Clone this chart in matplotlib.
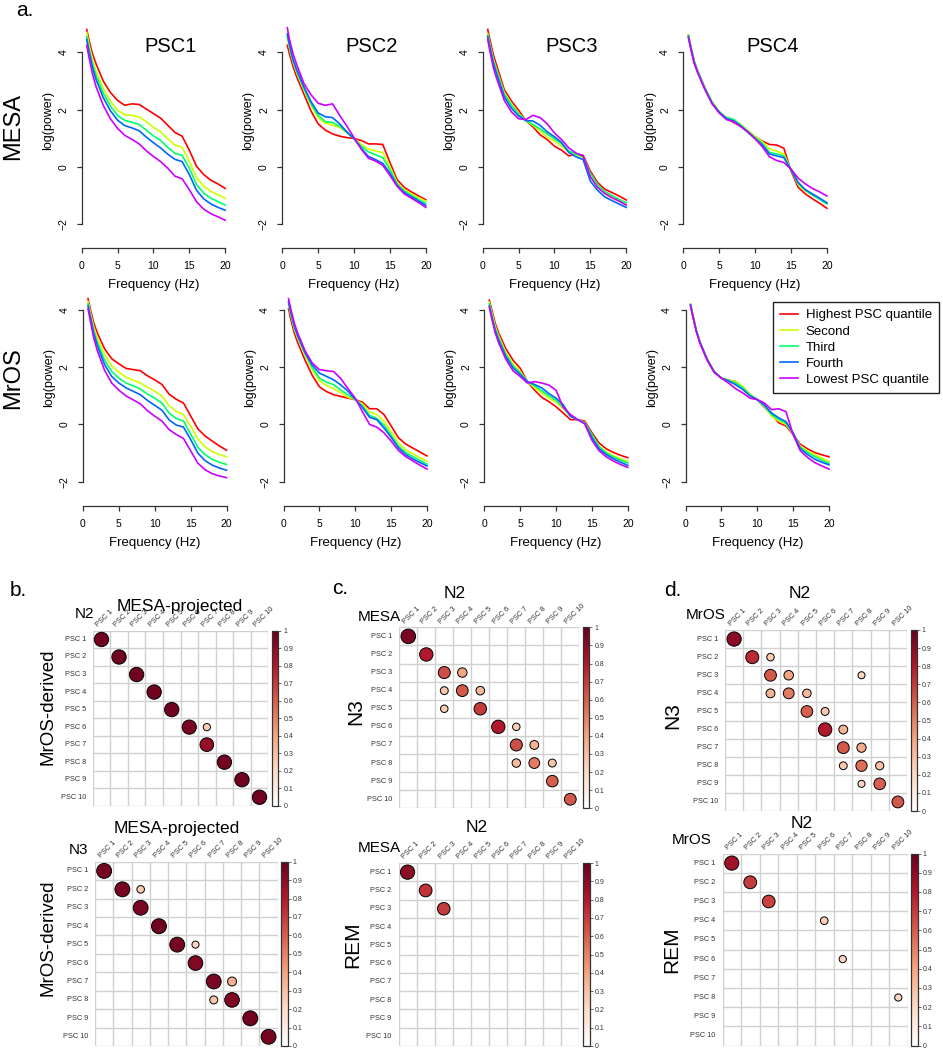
import numpy as np
import matplotlib
matplotlib.use("Agg")
import matplotlib.pyplot as plt
from matplotlib.colors import LinearSegmentedColormap, Normalize
from matplotlib import cm

plt.rcParams['font.family'] = ['Liberation Sans', 'DejaVu Sans']

# ---------------- data: power spectra by PSC quantile ----------------
freq = [0.7, 1, 1.5, 2, 3, 4, 5, 6, 7, 8, 9, 10, 11, 12, 13, 14, 15, 16, 17, 18, 19, 20]
quantiles = ["Highest PSC quantile", "Second", "Third", "Fourth", "Lowest PSC quantile"]
line_colors = ["#FF0000", "#CCFF00", "#00FF66", "#0066FF", "#CC00FF"]
psc_titles = ["PSC1", "PSC2", "PSC3", "PSC4"]
cohorts = ["MESA", "MrOS"]

mesa_psc1 = [
    [4.80, 4.45, 3.95, 3.60, 3.00, 2.60, 2.32, 2.15, 2.20, 2.18, 2.02, 1.86, 1.70, 1.45, 1.20, 1.07, 0.58, 0.02, -0.27, -0.47, -0.60, -0.76],
    [4.70, 4.30, 3.75, 3.35, 2.75, 2.30, 1.98, 1.82, 1.80, 1.74, 1.58, 1.38, 1.22, 0.98, 0.76, 0.68, 0.20, -0.38, -0.68, -0.86, -0.98, -1.10],
    [4.55, 4.15, 3.60, 3.20, 2.58, 2.12, 1.80, 1.62, 1.56, 1.48, 1.28, 1.08, 0.92, 0.68, 0.47, 0.40, -0.05, -0.62, -0.92, -1.10, -1.22, -1.34],
    [4.45, 4.05, 3.48, 3.05, 2.42, 1.96, 1.63, 1.44, 1.36, 1.26, 1.04, 0.84, 0.66, 0.44, 0.26, 0.18, -0.27, -0.82, -1.12, -1.30, -1.42, -1.52],
    [4.25, 3.85, 3.25, 2.80, 2.15, 1.68, 1.34, 1.10, 0.96, 0.80, 0.56, 0.36, 0.18, -0.05, -0.33, -0.42, -0.80, -1.22, -1.48, -1.64, -1.75, -1.87],
]
mesa_psc2 = [
    [4.25, 3.95, 3.50, 3.15, 2.55, 1.95, 1.50, 1.28, 1.15, 1.07, 1.02, 0.99, 0.92, 0.80, 0.80, 0.78, 0.15, -0.45, -0.72, -0.88, -1.02, -1.15],
    [4.50, 4.15, 3.65, 3.30, 2.70, 2.15, 1.72, 1.52, 1.46, 1.38, 1.18, 0.99, 0.78, 0.62, 0.55, 0.50, 0.00, -0.55, -0.80, -0.95, -1.08, -1.20],
    [4.58, 4.22, 3.70, 3.35, 2.75, 2.20, 1.80, 1.58, 1.55, 1.42, 1.20, 0.99, 0.72, 0.52, 0.42, 0.32, -0.10, -0.60, -0.85, -1.00, -1.15, -1.28],
    [4.65, 4.28, 3.75, 3.40, 2.80, 2.28, 1.88, 1.75, 1.72, 1.50, 1.22, 0.98, 0.65, 0.36, 0.25, 0.12, -0.22, -0.65, -0.90, -1.05, -1.20, -1.35],
    [4.86, 4.45, 3.95, 3.58, 2.92, 2.52, 2.22, 2.15, 2.20, 1.80, 1.42, 1.02, 0.62, 0.30, 0.20, 0.05, -0.30, -0.68, -0.95, -1.10, -1.25, -1.42],
]
mesa_psc3 = [
    [4.80, 4.45, 3.90, 3.50, 2.70, 2.30, 1.98, 1.62, 1.40, 1.12, 0.95, 0.72, 0.58, 0.38, 0.45, 0.40, -0.15, -0.55, -0.78, -0.90, -1.02, -1.16],
    [4.65, 4.30, 3.75, 3.35, 2.60, 2.20, 1.88, 1.62, 1.45, 1.25, 1.02, 0.90, 0.72, 0.52, 0.42, 0.30, -0.28, -0.68, -0.92, -1.05, -1.18, -1.30],
    [4.60, 4.25, 3.70, 3.30, 2.55, 2.15, 1.85, 1.62, 1.48, 1.32, 1.15, 0.98, 0.80, 0.55, 0.45, 0.35, -0.22, -0.62, -0.86, -1.00, -1.14, -1.26],
    [4.55, 4.18, 3.60, 3.20, 2.45, 2.05, 1.78, 1.62, 1.60, 1.45, 1.22, 1.05, 0.85, 0.50, 0.35, 0.25, -0.50, -0.82, -1.05, -1.18, -1.30, -1.42],
    [4.45, 4.05, 3.45, 3.05, 2.33, 1.92, 1.68, 1.65, 1.80, 1.72, 1.50, 1.18, 0.95, 0.66, 0.48, 0.38, -0.35, -0.72, -0.93, -1.08, -1.20, -1.34],
]
mesa_psc4 = [
    [4.60, 4.25, 3.70, 3.35, 2.75, 2.25, 1.92, 1.70, 1.55, 1.42, 1.25, 1.05, 0.90, 0.78, 0.76, 0.65, -0.15, -0.72, -0.95, -1.12, -1.28, -1.45],
    [4.60, 4.25, 3.70, 3.35, 2.78, 2.28, 1.93, 1.72, 1.62, 1.48, 1.27, 1.06, 0.88, 0.62, 0.55, 0.45, -0.10, -0.62, -0.85, -0.98, -1.12, -1.28],
    [4.58, 4.22, 3.68, 3.33, 2.75, 2.25, 1.92, 1.72, 1.66, 1.46, 1.24, 1.02, 0.82, 0.50, 0.45, 0.38, -0.10, -0.58, -0.82, -0.99, -1.14, -1.30],
    [4.55, 4.20, 3.65, 3.30, 2.72, 2.22, 1.90, 1.68, 1.60, 1.42, 1.20, 0.98, 0.76, 0.45, 0.38, 0.32, -0.10, -0.55, -0.80, -0.95, -1.10, -1.26],
    [4.50, 4.15, 3.62, 3.28, 2.70, 2.20, 1.88, 1.65, 1.58, 1.40, 1.22, 0.98, 0.70, 0.35, 0.22, 0.15, -0.08, -0.40, -0.60, -0.76, -0.88, -1.02],
]
mros_psc1 = [
    [4.40, 4.05, 3.55, 3.20, 2.65, 2.30, 2.12, 1.96, 1.92, 1.88, 1.70, 1.56, 1.40, 1.06, 0.88, 0.75, 0.30, -0.15, -0.40, -0.58, -0.75, -0.90],
    [4.30, 3.95, 3.40, 3.02, 2.45, 2.05, 1.83, 1.65, 1.55, 1.45, 1.30, 1.16, 1.00, 0.66, 0.46, 0.35, -0.05, -0.50, -0.78, -0.95, -1.05, -1.13],
    [4.22, 3.85, 3.28, 2.88, 2.25, 1.85, 1.62, 1.45, 1.35, 1.24, 1.06, 0.92, 0.75, 0.40, 0.21, 0.12, -0.33, -0.80, -1.05, -1.22, -1.32, -1.40],
    [4.15, 3.78, 3.18, 2.76, 2.10, 1.68, 1.45, 1.28, 1.16, 1.04, 0.84, 0.67, 0.50, 0.16, -0.02, -0.09, -0.52, -1.00, -1.26, -1.42, -1.52, -1.60],
    [4.05, 3.65, 3.02, 2.58, 1.90, 1.45, 1.20, 1.00, 0.86, 0.72, 0.48, 0.29, 0.12, -0.18, -0.35, -0.49, -0.92, -1.35, -1.58, -1.72, -1.80, -1.86],
]
mros_psc2 = [
    [4.05, 3.70, 3.20, 2.85, 2.25, 1.72, 1.32, 1.15, 1.04, 0.98, 0.92, 0.87, 0.78, 0.55, 0.55, 0.35, -0.05, -0.46, -0.68, -0.82, -0.96, -1.10],
    [4.20, 3.85, 3.35, 3.00, 2.42, 1.92, 1.52, 1.36, 1.25, 1.10, 0.95, 0.87, 0.72, 0.44, 0.35, 0.12, -0.25, -0.64, -0.88, -1.02, -1.16, -1.29],
    [4.25, 3.90, 3.40, 3.05, 2.48, 2.00, 1.62, 1.48, 1.39, 1.20, 1.04, 0.87, 0.65, 0.32, 0.21, -0.02, -0.38, -0.75, -0.98, -1.12, -1.26, -1.39],
    [4.30, 3.95, 3.45, 3.10, 2.52, 2.08, 1.80, 1.68, 1.56, 1.38, 1.16, 0.88, 0.60, 0.25, 0.17, -0.12, -0.45, -0.81, -1.05, -1.20, -1.33, -1.45],
    [4.40, 4.05, 3.55, 3.18, 2.58, 2.15, 1.92, 1.88, 1.85, 1.60, 1.25, 0.92, 0.45, 0.00, -0.09, -0.29, -0.58, -0.90, -1.12, -1.27, -1.42, -1.56],
]
mros_psc3 = [
    [4.35, 4.05, 3.55, 3.20, 2.65, 2.25, 1.97, 1.50, 1.20, 0.95, 0.80, 0.62, 0.40, 0.17, 0.17, 0.12, -0.29, -0.65, -0.85, -0.98, -1.08, -1.16],
    [4.28, 3.95, 3.45, 3.10, 2.52, 2.12, 1.85, 1.50, 1.28, 1.10, 0.92, 0.78, 0.55, 0.29, 0.17, 0.08, -0.38, -0.75, -0.96, -1.10, -1.20, -1.29],
    [4.22, 3.88, 3.38, 3.02, 2.45, 2.05, 1.80, 1.50, 1.35, 1.18, 1.00, 0.85, 0.60, 0.29, 0.17, 0.06, -0.35, -0.78, -1.00, -1.14, -1.25, -1.35],
    [4.15, 3.80, 3.30, 2.95, 2.38, 1.98, 1.75, 1.50, 1.40, 1.28, 1.08, 0.92, 0.69, 0.29, 0.17, 0.04, -0.46, -0.85, -1.05, -1.20, -1.32, -1.43],
    [4.10, 3.75, 3.22, 2.86, 2.28, 1.88, 1.68, 1.45, 1.50, 1.45, 1.38, 1.20, 0.60, 0.35, 0.17, 0.02, -0.55, -0.92, -1.13, -1.28, -1.40, -1.50],
]
mros_psc4 = [
    [4.20, 3.85, 3.30, 2.90, 2.30, 1.85, 1.62, 1.55, 1.50, 1.30, 1.04, 0.87, 0.60, 0.35, 0.06, -0.05, -0.35, -0.69, -0.85, -0.98, -1.06, -1.13],
    [4.20, 3.85, 3.30, 2.90, 2.30, 1.86, 1.62, 1.55, 1.50, 1.32, 1.06, 0.87, 0.62, 0.30, 0.12, 0.00, -0.32, -0.75, -0.92, -1.05, -1.18, -1.29],
    [4.18, 3.82, 3.28, 2.88, 2.28, 1.84, 1.62, 1.54, 1.45, 1.28, 1.02, 0.87, 0.65, 0.35, 0.18, 0.05, -0.30, -0.80, -0.98, -1.12, -1.25, -1.36],
    [4.18, 3.82, 3.28, 2.88, 2.28, 1.84, 1.62, 1.52, 1.39, 1.22, 1.00, 0.87, 0.68, 0.40, 0.23, 0.10, -0.30, -0.84, -1.05, -1.21, -1.32, -1.41],
    [4.15, 3.80, 3.25, 2.85, 2.25, 1.82, 1.62, 1.45, 1.25, 1.10, 0.92, 0.87, 0.75, 0.52, 0.55, 0.45, -0.35, -0.92, -1.15, -1.33, -1.45, -1.56],
]
spectra = [[mesa_psc1, mesa_psc2, mesa_psc3, mesa_psc4],
           [mros_psc1, mros_psc2, mros_psc3, mros_psc4]]

# ---------------- data: PSC correlation matrices (row, col, |r|) ----------------
psc_labels = ["PSC %d" % i for i in range(1, 11)]
b_top_n2 = [(1, 1, 0.97), (2, 2, 0.97), (3, 3, 0.97), (4, 4, 0.97), (5, 5, 0.97),
            (6, 6, 0.95), (6, 7, 0.25), (7, 7, 0.88), (8, 8, 0.97), (9, 9, 0.97), (10, 10, 0.97)]
b_bot_n3 = [(1, 1, 0.96), (2, 2, 0.96), (2, 3, 0.25), (3, 3, 0.95), (4, 4, 0.97), (5, 5, 0.96),
            (5, 6, 0.22), (6, 6, 0.93), (7, 7, 0.95), (7, 8, 0.35), (8, 7, 0.28), (8, 8, 0.93),
            (9, 9, 0.97), (10, 10, 0.96)]
c_top_mesa = [(1, 1, 0.95), (2, 2, 0.8), (3, 3, 0.65), (3, 4, 0.4), (4, 3, 0.28), (4, 4, 0.62),
              (4, 5, 0.33), (5, 3, 0.25), (5, 5, 0.7), (6, 6, 0.8), (6, 7, 0.25), (7, 7, 0.65),
              (7, 8, 0.35), (8, 7, 0.32), (8, 8, 0.52), (8, 9, 0.28), (9, 9, 0.6), (10, 10, 0.62)]
c_bot_mesa = [(1, 1, 0.9), (2, 2, 0.72), (3, 3, 0.7)]
d_top_mros = [(1, 1, 0.9), (2, 2, 0.75), (2, 3, 0.25), (3, 3, 0.62), (3, 4, 0.4), (3, 8, 0.22),
              (4, 3, 0.35), (4, 4, 0.52), (4, 5, 0.32), (5, 5, 0.6), (5, 6, 0.28), (6, 6, 0.8),
              (6, 7, 0.35), (7, 7, 0.62), (7, 8, 0.38), (8, 7, 0.27), (8, 8, 0.56), (8, 9, 0.3),
              (9, 8, 0.22), (9, 9, 0.6), (10, 10, 0.62)]
d_bot_mros = [(1, 1, 0.85), (2, 2, 0.7), (3, 3, 0.68), (4, 6, 0.25), (6, 7, 0.22), (8, 10, 0.22)]

W, H = 943, 1050
fig = plt.figure(figsize=(W / 100, H / 100), dpi=100)


def px_axes(left, top, w, h):
    return fig.add_axes([left / W, 1 - (top + h) / H, w / W, h / H])


def ftext(x, y, s, **kw):
    kw.setdefault('ha', 'center')
    kw.setdefault('va', 'center')
    fig.text(x / W, 1 - y / H, s, **kw)


# ---------------- panel a ----------------
spec_left = [[81.7, 282.3, 482.7, 683.4], [83.0, 283.5, 484.3, 685.5]]
spec_top = [23.8, 281.5]
spec_w, spec_h = 143.5, 224.2
handles = []
for r in range(2):
    for c in range(4):
        ax = px_axes(spec_left[r][c], spec_top[r], spec_w, spec_h)
        for q in range(5):
            ln, = ax.plot(freq, spectra[r][c][q], color=line_colors[q], lw=1.2, clip_on=False)
            if r == 1 and c == 3:
                handles.append(ln)
        ax.set_xlim(0, 20)
        ax.set_ylim(-2.84, 5.0)
        for s in ['top', 'right']:
            ax.spines[s].set_visible(False)
        ax.spines['left'].set_bounds(-2, 4)
        ax.spines['bottom'].set_bounds(0, 20)
        for s in ['left', 'bottom']:
            ax.spines[s].set_color('#333333')
            ax.spines[s].set_linewidth(0.9)
        ax.set_xticks([0, 5, 10, 15, 20])
        ax.set_yticks([-2, 0, 2, 4])
        ax.tick_params(direction='out', length=3.6, width=0.9, color='#333333',
                       labelsize=7.5, pad=6)
        for lbl in ax.get_yticklabels():
            lbl.set_rotation(90)
            lbl.set_va('center')
        ax.set_facecolor('none')
        ax.text(0.5, -0.165, "Frequency (Hz)", transform=ax.transAxes,
                ha='center', va='center', fontsize=9.5)
        ax.text(-0.235, 0.57, "log(power)", transform=ax.transAxes,
                rotation=90, ha='center', va='center', fontsize=9)
        if r == 0:
            ax.text(0.62, 0.9, psc_titles[c], transform=ax.transAxes,
                    ha='center', va='center', fontsize=14.5)

ftext(13.5, 126, "MESA", rotation=90, fontsize=17)
ftext(13.5, 378, "MrOS", rotation=90, fontsize=17)
ftext(25, 10, "a.", fontsize=15)

fig.legend(handles, quantiles, loc='upper left', bbox_to_anchor=(773 / W, 1 - 302 / H),
           fontsize=9.5, handlelength=1.37, handletextpad=0.55, labelspacing=0.29,
           borderpad=0.55, borderaxespad=0, frameon=True, fancybox=False,
           edgecolor='#222222', framealpha=1)

# ---------------- panels b, c, d ----------------
cmap = LinearSegmentedColormap.from_list(
    'corr', ['#FFFFFF', '#FDDBC7', '#F4A582', '#D6604D', '#B2182B', '#67001F'])
norm = Normalize(0, 1)


def corr_panel(entries, left, top, w, h):
    ax = px_axes(left, top, w, h)
    ax.set_xlim(0, 10)
    ax.set_ylim(10, 0)
    for k in range(11):
        ax.axvline(k, color='#D0D0D0', lw=1.0, zorder=1)
        ax.axhline(k, color='#D0D0D0', lw=1.0, zorder=1)
    ax.set_xticks([])
    ax.set_yticks([])
    for s in ax.spines.values():
        s.set_visible(False)
    cell_px = min(w, h) / 10
    rows = [e[0] - 0.5 for e in entries]
    cols = [e[1] - 0.5 for e in entries]
    vals = np.array([e[2] for e in entries])
    sizes = (0.83 * np.sqrt(vals) * cell_px * 0.72) ** 2
    ax.scatter(cols, rows, s=sizes, c=vals, cmap=cmap, norm=norm,
               edgecolors='black', linewidths=0.7, zorder=3, clip_on=False)
    for i, lab in enumerate(psc_labels):
        ax.text(-0.38, i + 0.5, lab, ha='right', va='center', fontsize=5.3, color='#333333')
        ax.text(i + 0.4, -0.12, lab, ha='left', va='bottom', rotation=45,
                rotation_mode='anchor', fontsize=5.3, color='#333333')
    cax = px_axes(left + w + 3.5, top, 6.6, h)
    cb = fig.colorbar(cm.ScalarMappable(norm=norm, cmap=cmap), cax=cax)
    cb.set_ticks(np.arange(0, 1.01, 0.1))
    cb.set_ticklabels(['0', '0.1', '0.2', '0.3', '0.4', '0.5', '0.6', '0.7', '0.8', '0.9', '1'])
    cax.tick_params(labelsize=5, length=2, width=0.5, pad=1.5, colors='#333333')
    cb.outline.set_edgecolor('#333333')
    cb.outline.set_linewidth(0.9)
    return ax


corr_panel(b_top_n2, 92.7, 630.7, 175.6, 175.3)
corr_panel(b_bot_n3, 95.0, 861.7, 182.7, 184.3)
corr_panel(c_top_mesa, 399.3, 627.3, 180.0, 181.0)
corr_panel(c_bot_mesa, 398.5, 863.0, 181.0, 183.0)
corr_panel(d_top_mros, 725.0, 630.0, 182.0, 181.0)
corr_panel(d_bot_mros, 722.5, 853.5, 185.0, 192.0)

# panel labels and titles
ftext(18, 590, "b.", fontsize=15)
ftext(340, 588, "c.", fontsize=15)
ftext(673, 590, "d.", fontsize=15)

ftext(180, 607, "MESA-projected", fontsize=12.5)
ftext(84, 614, "N2", fontsize=11)
ftext(48, 707, "MrOS-derived", rotation=90, fontsize=13.5)

ftext(177, 828, "MESA-projected", fontsize=12.5)
ftext(79, 850, "N3", fontsize=11)
ftext(47.5, 938, "MrOS-derived", rotation=90, fontsize=13.5)

ftext(455, 594, "N2", fontsize=12.5)
ftext(379, 617, "MESA", fontsize=11)
ftext(356, 712, "N3", rotation=90, fontsize=15)

ftext(477, 827, "N2", fontsize=12.5)
ftext(379, 848, "MESA", fontsize=11)
ftext(353, 945, "REM", rotation=90, fontsize=15)

ftext(800, 594, "N2", fontsize=12.5)
ftext(706, 615, "MrOS", fontsize=11)
ftext(673, 716, "N3", rotation=90, fontsize=15)

ftext(802, 823, "N2", fontsize=12.5)
ftext(692, 840, "MrOS", fontsize=11)
ftext(672, 950, "REM", rotation=90, fontsize=15)

fig.savefig("out.png", dpi=100)
